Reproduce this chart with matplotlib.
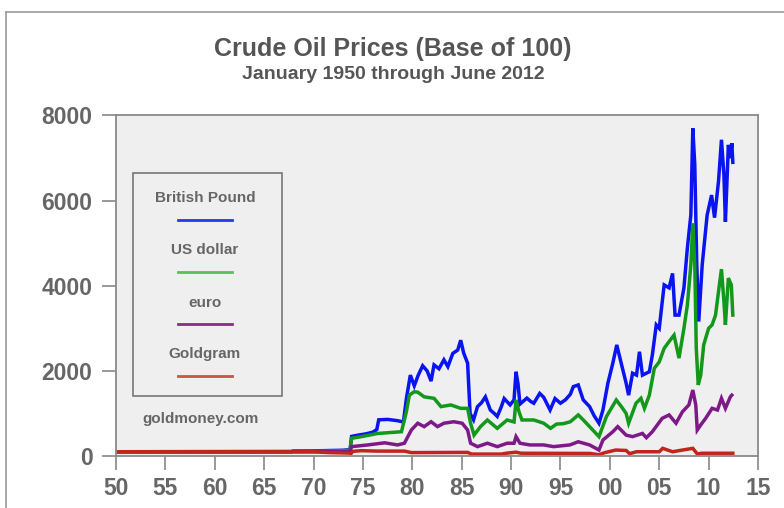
import numpy as np
import matplotlib
matplotlib.use("Agg")
import matplotlib.pyplot as plt
from matplotlib.lines import Line2D
from matplotlib.patches import Rectangle

plt.rcParams['font.family'] = ['Liberation Sans', 'DejaVu Sans']

# values (index, 1950 = 100)
gbp_years = [1950.0, 1967.8, 1967.9, 1970.0, 1971.5, 1973.0, 1973.7, 1973.85, 1974.5, 1975.3,
             1976.0, 1976.4, 1976.6, 1977.5, 1978.5, 1979.1, 1979.4, 1979.8, 1980.2, 1980.6,
             1981.05, 1981.5, 1981.9, 1982.2, 1982.7, 1983.2, 1983.6, 1984.1, 1984.6, 1984.9,
             1985.2, 1985.6, 1985.85, 1986.2, 1986.6, 1987.0, 1987.4, 1987.9, 1988.3, 1988.6,
             1989.0, 1989.3, 1989.9, 1990.3, 1990.5, 1990.7, 1990.9, 1991.3, 1991.6, 1992.0,
             1992.3, 1992.9, 1993.3, 1993.95, 1994.45, 1995.0, 1995.5, 1996.0, 1996.3, 1996.8,
             1997.3, 1997.95, 1998.4, 1998.9, 1999.3, 1999.8, 2000.3, 2000.7, 2001.15, 2001.65,
             2001.9, 2002.3, 2002.7, 2003.0, 2003.3, 2004.0, 2004.3, 2004.7, 2005.0, 2005.5,
             2006.0, 2006.35, 2006.6, 2007.0, 2007.5, 2007.85, 2008.2, 2008.4, 2008.6, 2008.8,
             2009.0, 2009.35, 2009.85, 2010.3, 2010.6, 2011.0, 2011.3, 2011.55, 2011.7, 2012.0,
             2012.2, 2012.35, 2012.45]
gbp_values = [100, 100, 117, 120, 128, 135, 150, 460, 490, 520,
              560, 620, 850, 860, 830, 800, 1350, 1900, 1650, 1900,
              2120, 2000, 1760, 2140, 2050, 2260, 2100, 2410, 2490, 2720,
              2420, 2180, 1000, 850, 1160, 1250, 1390, 1080, 1000, 930,
              1150, 1350, 1200, 1320, 1980, 1700, 1220, 1300, 1360, 1280,
              1240, 1470, 1380, 1080, 1350, 1240, 1320, 1450, 1630, 1670,
              1320, 1160, 950, 770, 1080, 1710, 2180, 2610, 2180, 1710,
              1430, 1945, 1900, 2450, 1900, 1980, 2370, 3080, 3000, 4020,
              3950, 4290, 3310, 3310, 3950, 4890, 5660, 7700, 6840, 4490,
              3160, 4490, 5660, 6130, 5600, 6450, 7430, 6600, 5500, 7310,
              7000, 7350, 6900]

usd_years = [1950.0, 1970.0, 1973.0, 1973.7, 1973.85, 1974.85, 1976.5, 1978.9, 1979.4, 1979.7,
             1980.2, 1980.55, 1981.2, 1982.2, 1982.9, 1983.9, 1984.9, 1985.6, 1985.9, 1986.25,
             1986.9, 1987.6, 1988.6, 1989.6, 1990.3, 1990.5, 1990.8, 1991.1, 1992.3, 1993.3,
             1994.0, 1994.6, 1995.3, 1996.0, 1996.8, 1997.3, 1997.95, 1998.9, 1999.65, 2000.65,
             2001.2, 2001.65, 2001.9, 2002.65, 2003.15, 2003.5, 2004.0, 2004.5, 2005.0, 2005.5,
             2006.0, 2006.5, 2007.0, 2007.5, 2007.85, 2008.2, 2008.4, 2008.6, 2008.75, 2008.95,
             2009.2, 2009.5, 2010.0, 2010.35, 2010.7, 2011.0, 2011.3, 2011.55, 2011.7, 2012.0,
             2012.3, 2012.45]
usd_values = [100, 110, 125, 140, 415, 455, 530, 570, 1040, 1430,
              1510, 1500, 1390, 1355, 1160, 1200, 1120, 1120, 770, 490,
              690, 846, 650, 846, 800, 1316, 1040, 846, 846, 770,
              650, 750, 760, 805, 965, 850, 690, 455, 925, 1316,
              1150, 1000, 770, 1240, 1355, 1120, 1430, 2060, 2210, 2530,
              2690, 2840, 2300, 3000, 3550, 4490, 5470, 4490, 2530, 1670,
              1900, 2610, 3000, 3080, 3310, 3860, 4390, 3630, 3080, 4180,
              4020, 3310]

eur_years = [1950.0, 1973.7, 1973.85, 1975.5, 1977.2, 1978.5, 1979.2, 1979.9, 1980.55, 1981.2,
             1981.9, 1982.55, 1983.2, 1984.2, 1985.05, 1985.6, 1985.9, 1986.6, 1987.6, 1988.6,
             1989.6, 1990.3, 1990.5, 1990.9, 1991.9, 1993.3, 1994.3, 1995.95, 1996.8, 1997.95,
             1998.9, 1999.3, 2000.3, 2000.8, 2001.65, 2002.3, 2003.3, 2003.7, 2004.3, 2005.3,
             2006.0, 2006.7, 2007.35, 2008.0, 2008.4, 2008.7, 2008.85, 2009.2, 2009.7, 2010.35,
             2010.9, 2011.3, 2011.7, 2012.2, 2012.35]
eur_values = [100, 100, 220, 260, 310, 260, 300, 610, 770, 690,
              805, 690, 770, 805, 770, 610, 300, 220, 300, 220,
              300, 300, 455, 300, 260, 260, 220, 260, 335, 260,
              140, 375, 570, 690, 490, 455, 530, 430, 570, 885,
              965, 770, 1040, 1200, 1550, 1200, 610, 730, 885, 1120,
              1080, 1355, 1120, 1390, 1430]

gold_years = [1950.0, 1970.0, 1971.5, 1973.5, 1973.8, 1974.0, 1974.85, 1976.5, 1979.2, 1979.9,
              1985.6, 1986.0, 1989.0, 1989.5, 1990.5, 1991.0, 1998.0, 1998.9, 1999.5, 2000.6,
              2001.65, 2002.0, 2002.7, 2005.0, 2005.35, 2006.35, 2007.35, 2008.4, 2008.85, 2009.35,
              2012.45]
gold_values = [100, 100, 80, 70, 60, 110, 125, 115, 115, 80,
               85, 45, 45, 65, 90, 65, 60, 30, 80, 140,
               130, 55, 100, 100, 180, 100, 140, 180, 50, 65,
               65]

series_names = ["British Pound", "US dollar", "euro", "Goldgram"]
series_colors = ["#0a14f0", "#12981a", "#7d1a88", "#c0261c"]
legend_colors = ["#1f3de6", "#58c058", "#8a2a8c", "#d0504a"]

x_ticks = list(range(1950, 2016, 5))
x_labels = ["%02d" % (y % 100) for y in x_ticks]
y_ticks = [0, 2000, 4000, 6000, 8000]

fig = plt.figure(figsize=(7.84, 5.08), dpi=100)
fig.patch.set_facecolor("white")
ax = fig.add_axes([116 / 784, 52 / 508, 642 / 784, 340.5 / 508])
ax.set_facecolor("#efefef")

data = [(gbp_years, gbp_values), (usd_years, usd_values),
        (eur_years, eur_values), (gold_years, gold_values)]
for (xs, ys), c in zip(data, series_colors):
    ax.plot(xs, ys, color=c, lw=2.5, solid_joinstyle="miter")

ax.set_xlim(1950, 2015)
ax.set_ylim(0, 8000)
ax.set_xticks(x_ticks)
ax.set_xticklabels(x_labels)
ax.set_yticks(y_ticks)
ax.tick_params(axis="both", direction="out", length=10, width=1.2, color="#888888",
               labelsize=16.5, labelcolor="#666666")
ax.tick_params(axis="y", pad=7)
ax.tick_params(axis="x", pad=5)
for lab in ax.get_xticklabels() + ax.get_yticklabels():
    lab.set_fontweight("bold")
for s in ax.spines.values():
    s.set_color("#8a8a8a")
    s.set_linewidth(1.3)

# legend box drawn by hand: label above a short line
tr = ax.transAxes
ax.add_patch(Rectangle((0.027, 0.176), 0.231, 0.654, transform=tr, fill=False,
                       edgecolor="#777777", lw=1.2, zorder=5))
label_y = [0.757, 0.605, 0.450, 0.300]
line_y = [0.693, 0.541, 0.388, 0.235]
for name, c, ly, ln in zip(series_names, legend_colors, label_y, line_y):
    ax.text(0.1386, ly, name, transform=tr, ha="center", va="center",
            fontsize=11, fontweight="bold", color="#666666", zorder=6)
    ax.add_line(Line2D([0.097, 0.181], [ln, ln], transform=tr, color=c, lw=2, zorder=6))
ax.text(0.132, 0.109, "goldmoney.com", transform=tr, ha="center", va="center",
        fontsize=11, fontweight="bold", color="#666666")

fig.text(0.501, 0.903, "Crude Oil Prices (Base of 100)", ha="center", va="center",
         fontsize=18, fontweight="bold", color="#555555")
fig.text(0.502, 0.854, "January 1950 through June 2012", ha="center", va="center",
         fontsize=14, fontweight="bold", color="#555555")

# outer frame (top and left edges only are visible)
fig.add_artist(Line2D([6 / 784, 1], [1 - 12 / 508, 1 - 12 / 508], transform=fig.transFigure,
                      color="#9a9a9a", lw=1.2))
fig.add_artist(Line2D([6 / 784, 6 / 784], [0, 1 - 12 / 508], transform=fig.transFigure,
                      color="#9a9a9a", lw=1.2))

fig.savefig("out.png", dpi=100)
